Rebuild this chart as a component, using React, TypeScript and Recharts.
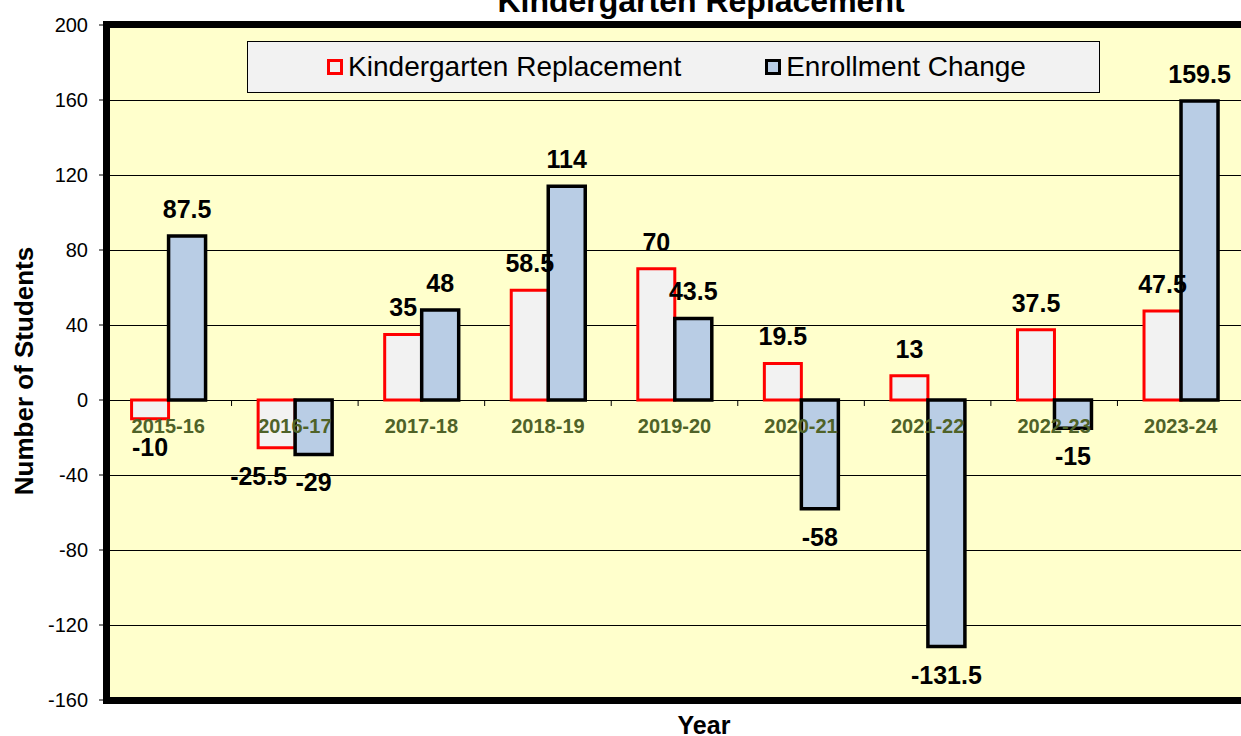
import { BarChart, Bar, XAxis, YAxis, CartesianGrid, LabelList, Legend } from 'recharts'

const years = ['2015-16', '2016-17', '2017-18', '2018-19', '2019-20', '2020-21', '2021-22', '2022-23', '2023-24']
const kinderReplacement = [-10, -25.5, 35, 58.5, 70, 19.5, 13, 37.5, 47.5]
const enrollmentChange = [87.5, -29, 48, 114, 43.5, -58, -131.5, -15, 159.5]
const yTicks = [-160, -120, -80, -40, 0, 40, 80, 120, 160, 200]
const seriesNames = ['Kindergarten Replacement', 'Enrollment Change']

const FONT = '"Liberation Sans", Arial, sans-serif'

// layout of the plot box
const CHART_W = 1250
const CHART_H = 736
const PLOT_TOP = 25
const PLOT_LEFT = 105
const PLOT_BOTTOM = 700
const PLOT_RIGHT = 1244
const X_AXIS_H = 1
const Y_MIN = yTicks[0]
const Y_MAX = yTicks[yTicks.length - 1]
const ZERO_Y = PLOT_TOP + ((PLOT_BOTTOM - PLOT_TOP) * Y_MAX) / (Y_MAX - Y_MIN)
const BAND = (PLOT_RIGHT - PLOT_LEFT) / years.length

const data = years.map((year, i) => ({
    year,
    kinder: kinderReplacement[i],
    enroll: enrollmentChange[i],
}))

// year labels sit just under the zero line, with ticks between groups
const YearTick = (props: any) => {
    const { x, payload, index } = props
    return (
        <g>
            <line x1={x - BAND / 2} x2={x - BAND / 2} y1={ZERO_Y} y2={ZERO_Y + 6} stroke="#000" />
            {index === years.length - 1 && (
                <line x1={x + BAND / 2} x2={x + BAND / 2} y1={ZERO_Y} y2={ZERO_Y + 6} stroke="#000" />
            )}
            <text x={x} y={ZERO_Y + 33} textAnchor="middle" fill="#4f6228" fontWeight="bold" fontSize={20} fontFamily={FONT}>
                {payload.value}
            </text>
        </g>
    )
}

const valueLabel = (series: 'kinder' | 'enroll') => (props: any) => {
    const { x, y, width, height, value, index } = props
    const top = Math.min(y, y + height)
    const bottom = Math.max(y, y + height)
    // both bars negative -> nudge the left label so it doesn't collide
    const shift = series === 'kinder' && value < 0 && enrollmentChange[index] < 0 ? -18 : 0
    const ty = value >= 0 ? top - 18 : bottom + 37
    return (
        <text x={x + width / 2 + shift} y={ty} textAnchor="middle" fontWeight="bold" fontSize={25} fill="#000" fontFamily={FONT}>
            {value}
        </text>
    )
}

const LegendBox = () => (
    <div
        style={{
            boxSizing: 'border-box',
            width: 853,
            height: 52,
            border: '1.5px solid #000',
            background: '#f2f2f2',
            display: 'flex',
            alignItems: 'center',
            justifyContent: 'center',
            gap: 84,
            fontFamily: FONT,
            fontSize: 28,
            color: '#000',
            paddingLeft: 6,
        }}
    >
        {seriesNames.map((name, i) => (
            <div key={name} style={{ display: 'flex', alignItems: 'center', gap: 5 }}>
                <span
                    style={{
                        boxSizing: 'border-box',
                        width: 16,
                        height: 16,
                        border: i === 0 ? '3px solid #ff0000' : '3px solid #000',
                        background: i === 0 ? '#f2f2f2' : '#b9cde5',
                    }}
                />
                <span style={{ lineHeight: '30px' }}>{name}</span>
            </div>
        ))}
    </div>
)

export default function App() {
    return (
        <div style={{ position: 'absolute', left: 0, top: 0, width: 1241, height: 736, overflow: 'hidden', background: '#fff' }}>
            <div
                style={{
                    position: 'absolute',
                    left: 401,
                    top: -15,
                    width: 600,
                    textAlign: 'center',
                    fontFamily: FONT,
                    fontWeight: 'bold',
                    fontSize: 32,
                    lineHeight: '32px',
                    whiteSpace: 'nowrap',
                }}
            >
                Kindergarten Replacement
            </div>
            <BarChart
                width={CHART_W}
                height={CHART_H}
                data={data}
                margin={{ top: PLOT_TOP, right: CHART_W - PLOT_RIGHT, bottom: CHART_H - PLOT_BOTTOM - X_AXIS_H, left: 0 }}
                barGap={0}
                barCategoryGap="21%"
            >
                <CartesianGrid
                    vertical={false}
                    stroke="#000"
                    strokeWidth={1}
                    fill="#ffffcc"
                    fillOpacity={1}
                    shapeRendering="crispEdges"
                />
                <YAxis
                    width={PLOT_LEFT}
                    domain={[Y_MIN, Y_MAX]}
                    ticks={yTicks}
                    interval={0}
                    axisLine={false}
                    tickLine={{ stroke: '#000' }}
                    tickSize={6}
                    tickMargin={11}
                    tick={{ fill: '#000', fontSize: 20, fontFamily: FONT }}
                />
                <Legend
                    layout="horizontal"
                    verticalAlign="middle"
                    align="center"
                    wrapperStyle={{ top: 41, left: 247, width: 853, height: 52 }}
                    content={() => <LegendBox />}
                />
                <Bar dataKey="kinder" name={seriesNames[0]} fill="#f2f2f2" stroke="#ff0000" strokeWidth={3} isAnimationActive={false}>
                    <LabelList dataKey="kinder" content={valueLabel('kinder')} />
                </Bar>
                <Bar dataKey="enroll" name={seriesNames[1]} fill="#b9cde5" stroke="#000" strokeWidth={3.5} isAnimationActive={false}>
                    <LabelList dataKey="enroll" content={valueLabel('enroll')} />
                </Bar>
                <XAxis
                    dataKey="year"
                    height={X_AXIS_H}
                    axisLine={false}
                    tickLine={false}
                    interval={0}
                    tick={(p: any) => <YearTick {...p} />}
                />
            </BarChart>
            {/* heavy plot frame */}
            <div
                style={{
                    position: 'absolute',
                    left: 103,
                    top: 21,
                    width: 1150,
                    height: 683,
                    boxSizing: 'border-box',
                    border: '7px solid #000',
                    pointerEvents: 'none',
                }}
            />
            <div
                style={{
                    position: 'absolute',
                    left: 24,
                    top: 371,
                    transform: 'translate(-50%, -50%) rotate(-90deg)',
                    fontFamily: FONT,
                    fontWeight: 'bold',
                    fontSize: 26,
                    lineHeight: '26px',
                    whiteSpace: 'nowrap',
                }}
            >
                Number of Students
            </div>
            <div
                style={{
                    position: 'absolute',
                    left: 604,
                    top: 713,
                    width: 200,
                    textAlign: 'center',
                    fontFamily: FONT,
                    fontWeight: 'bold',
                    fontSize: 25,
                    lineHeight: '25px',
                }}
            >
                Year
            </div>
        </div>
    )
}
